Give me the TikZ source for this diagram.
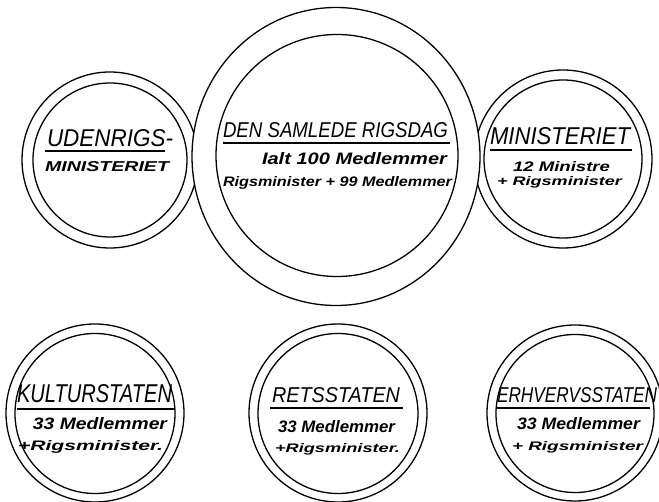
\documentclass[tikz,border=0pt]{standalone}
\usepackage{fontspec}
\usepackage{graphicx}
\usetikzlibrary{shapes.geometric}
\setmainfont{Liberation Sans}
\newcommand{\fitbox}[3]{\resizebox{#1pt}{#2pt}{#3}}
\tikzset{
  ring/.style={circle, draw=black, line width=1.3pt, inner sep=0pt},
  oval/.style={ellipse, draw=black, line width=1.3pt, inner sep=0pt},
  lbl/.style={anchor=base west, inner sep=0pt, outer sep=0pt},
  uline/.style={line width=1.2pt}
}
\begin{document}
\begin{tikzpicture}[x=1pt,y=-1pt]
\useasboundingbox (0,0) rectangle (659,502);
% top side circles
\node[ring, minimum size=176pt] (uo) at (110,160) {};
\node[ring, minimum size=154pt] (ui) at (110,160) {};
\node[ring, minimum size=178pt] (mo) at (563,159) {};
\node[ring, minimum size=158pt] (mi) at (563,159) {};
% big circle
\node[oval, fill=white, minimum width=288pt, minimum height=298pt] (bo) at (336,156.5) {};
\node[ring, minimum size=242pt] (bi) at (337,155.5) {};
% bottom circles
\node[ring, minimum size=178pt] (ko) at (95,413) {};
\node[ring, minimum size=160pt] (ki) at (95,413.5) {};
\node[ring, minimum size=178pt] (ro) at (338,413) {};
\node[ring, minimum size=160pt] (ri) at (338,413.5) {};
\node[ring, minimum size=176pt] (eo) at (575,413) {};
\node[ring, minimum size=158pt] (ei) at (575,413.5) {};
% texts
\node[lbl] (t1) at (47,147) {\fitbox{126}{17}{\itshape UDENRIGS-}};
\draw[uline] (45,151) -- (165,151);
\node[lbl] (t2) at (45,172) {\fitbox{124}{10}{\bfseries\itshape MINISTERIET}};
\node[lbl] (t3) at (223,138) {\fitbox{225}{15}{\itshape DEN SAMLEDE RIGSDAG}};
\draw[uline] (223,143) -- (450,143);
\node[lbl] (t4) at (262,165) {\fitbox{185}{12}{\bfseries\itshape Ialt 100 Medlemmer}};
\node[lbl] (t5) at (223,187) {\fitbox{229}{10}{\bfseries\itshape Rigsminister + 99 Medlemmer}};
\node[lbl] (t6) at (490,145) {\fitbox{140}{17}{\itshape MINISTERIET}};
\draw[uline] (490,150) -- (632,150);
\node[lbl] (t7) at (513,172) {\fitbox{97}{10}{\bfseries\itshape 12 Ministre}};
\node[lbl] (t8) at (497,186) {\fitbox{125}{9}{\bfseries\itshape + Rigsminister}};
\node[lbl] (t9) at (17,403) {\fitbox{155}{18}{\itshape KULTURSTATEN}};
\draw[uline] (17,409) -- (175,409);
\node[lbl] (t10) at (33,430) {\fitbox{134}{12}{\bfseries\itshape 33 Medlemmer}};
\node[lbl] (t11) at (18,450) {\fitbox{145}{10}{\bfseries\itshape +Rigsminister.}};
\node[lbl] (t12) at (272,403) {\fitbox{128}{15}{\itshape RETSSTATEN}};
\draw[uline] (270,408) -- (403,408);
\node[lbl] (t13) at (278,432) {\fitbox{117}{12}{\bfseries\itshape 33 Medlemmer}};
\node[lbl] (t14) at (275,453) {\fitbox{125}{9}{\bfseries\itshape +Rigsminister.}};
\node[lbl] (t15) at (497,403) {\fitbox{160}{15}{\itshape ERHVERVSSTATEN}};
\draw[uline] (497,408) -- (650,408);
\node[lbl] (t16) at (517,430) {\fitbox{123}{12}{\bfseries\itshape 33 Medlemmer}};
\node[lbl] (t17) at (512,451) {\fitbox{131}{9}{\bfseries\itshape + Rigsminister}};
\end{tikzpicture}
\end{document}
